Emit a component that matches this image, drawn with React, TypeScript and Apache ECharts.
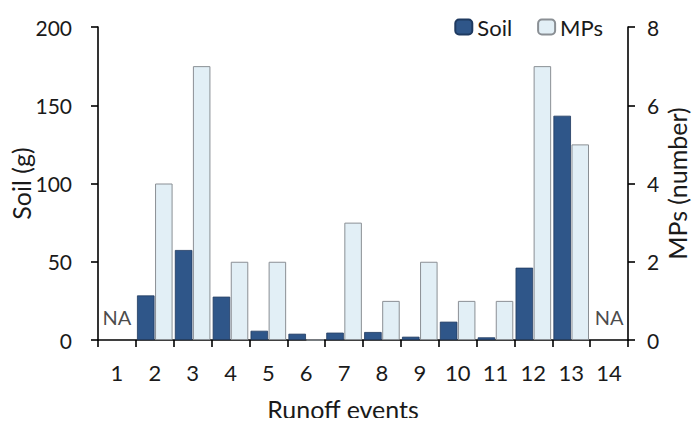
import React, { useEffect, useRef } from "react";
import * as echarts from "echarts";

const categories = ["1", "2", "3", "4", "5", "6", "7", "8", "9", "10", "11", "12", "13", "14"];
const soilValues: (number | null)[] = [null, 28.5, 57.5, 27.7, 5.9, 4, 4.7, 5.1, 2.1, 11.7, 1.7, 46.2, 143.3, null];
const mpsValues: (number | null)[] = [null, 4, 7, 2, 2, 0, 3, 1, 2, 1, 1, 7, 5, null];
const naCategories = ["1", "14"];
const soilTicks = { min: 0, max: 200, interval: 50 };
const mpsTicks = { min: 0, max: 8, interval: 2 };

const FONT = "Lato, 'Open Sans', sans-serif";
const TXT = "#1a1a1a";

export default function App() {
  const ref = useRef<HTMLDivElement>(null);
  useEffect(() => {
    if (!ref.current) return;
    const chart = echarts.init(ref.current, null, { renderer: "svg" });
    const axisLine = { show: true, lineStyle: { color: "#000", width: 1.6 } };
    const tick = { show: true, length: 7, lineStyle: { color: "#000", width: 1.6 } };
    chart.setOption({
      animation: false,
      textStyle: { fontFamily: FONT, color: TXT },
      grid: { left: 98, right: 72, top: 27, bottom: 86 },
      legend: {
        top: 11,
        right: 92,
        itemWidth: 17,
        itemHeight: 15,
        itemGap: 25,
        textStyle: { fontFamily: FONT, fontSize: 22, color: TXT },
        data: ["Soil", "MPs"],
      },
      xAxis: {
        type: "category",
        data: categories,
        boundaryGap: true,
        axisLine,
        axisTick: tick,
        axisLabel: { fontFamily: FONT, fontSize: 22, color: TXT, margin: 21 },
        name: "Runoff events",
        nameLocation: "middle",
        nameGap: 56,
        nameMoveOverlap: false,
        nameTextStyle: { fontFamily: FONT, fontSize: 25, color: TXT, padding: [0, 40, 0, 0] },
      },
      yAxis: [
        {
          type: "value",
          ...soilTicks,
          position: "left",
          axisLine,
          axisTick: tick,
          splitLine: { show: false },
          axisLabel: { fontFamily: FONT, fontSize: 21, color: TXT, margin: 26 },
          name: "Soil (g)",
          nameLocation: "middle",
          nameRotate: 90,
          nameGap: 65,
          nameMoveOverlap: false,
          nameTextStyle: { fontFamily: FONT, fontSize: 25, color: TXT },
        },
        {
          type: "value",
          ...mpsTicks,
          position: "right",
          axisLine,
          axisTick: tick,
          splitLine: { show: false },
          axisLabel: { fontFamily: FONT, fontSize: 21, color: TXT, margin: 19 },
          name: "MPs (number)",
          nameLocation: "middle",
          nameRotate: 90,
          nameGap: 36,
          nameMoveOverlap: false,
          nameTextStyle: { fontFamily: FONT, fontSize: 25, color: TXT },
        },
      ],
      series: [
        {
          name: "Soil",
          type: "bar",
          yAxisIndex: 0,
          data: soilValues,
          barCategoryGap: "6%",
          barGap: "3%",
          itemStyle: { color: "#2f5689", borderColor: "#1f3a60", borderWidth: 0.8 },
        },
        {
          name: "MPs",
          type: "bar",
          yAxisIndex: 1,
          data: mpsValues,
          barCategoryGap: "6%",
          barGap: "3%",
          itemStyle: { color: "#e2eff6", borderColor: "#8a8f94", borderWidth: 1 },
        },
        {
          name: "NA",
          type: "scatter",
          yAxisIndex: 0,
          symbolSize: 0,
          data: naCategories.map((c) => [c, 0]),
          label: {
            show: true,
            position: "top",
            distance: 13,
            formatter: "NA",
            fontFamily: FONT,
            fontSize: 20,
            color: TXT,
          },
          silent: true,
        },
      ],
    });
    return () => chart.dispose();
  }, []);
  return <div ref={ref} style={{ width: 700, height: 426, margin: -8 }} />;
}
